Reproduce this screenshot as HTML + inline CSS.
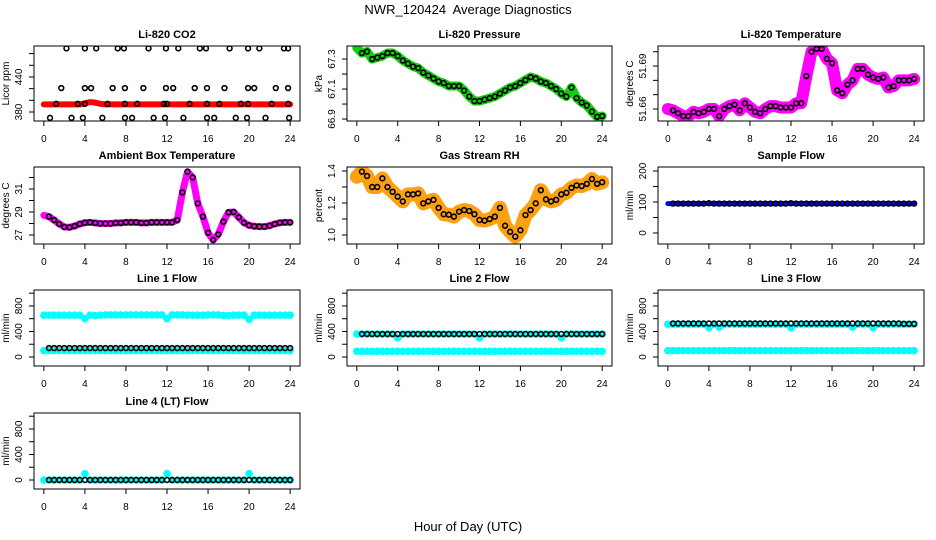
<!DOCTYPE html>
<html><head><meta charset="utf-8"><style>
body{margin:0;background:#fff}
svg{display:block;font-family:"Liberation Sans",Arial,sans-serif}
</style></head><body>
<svg id="chart" width="936" height="540" viewBox="0 0 936 540" xmlns="http://www.w3.org/2000/svg">
<text x="468" y="14" text-anchor="middle" font-size="13" xml:space="preserve">NWR_120424  Average Diagnostics</text>
<text x="468" y="531" text-anchor="middle" font-size="13">Hour of Day (UTC)</text>
</svg>
<script>
const hours = [0,0.5,1,1.5,2,2.5,3,3.5,4,4.5,5,5.5,6,6.5,7,7.5,8,8.5,9,9.5,10,10.5,11,11.5,12,12.5,13,13.5,14,14.5,15,15.5,16,16.5,17,17.5,18,18.5,19,19.5,20,20.5,21,21.5,22,22.5,23,23.5,24];
const xTicks = [0,4,8,12,16,20,24];

const co2Band = [393,393,393,393,393,393,393,393,395,397,396,394,393,393,393,393,393,393,393,393,393,393,393,393,393,393,393,393,393,393,393,393,393,393,393,393,393,393,393,393,393,393,393,393,393,393,393,393,393];
const co2PtHours = [2.2,4.0,5.1,7.2,7.8,10.2,11.9,13.1,15.2,15.8,18.1,19.9,21.0,23.4,23.8, 1.7,4.0,4.6,6.7,7.9,9.7,11.9,12.6,14.7,15.9,17.6,19.9,20.5,22.6,23.8, 1.2,3.3,4.0,6.2,7.9,9.1,11.7,12.0,14.2,15.9,17.1,19.2,19.9,22.2,23.8, 0.6,2.7,3.8,5.7,7.9,8.6,10.7,11.8,13.6,15.9,16.6,18.7,19.8,21.6,23.9];
const co2PtVals = [489,489,489,489,489,489,489,489,489,489,489,489,489,489,489, 421,421,421,421,421,421,421,421,421,421,421,421,421,421,421, 394,394,394,394,394,394,394,394,394,394,394,394,394,394,394, 370,370,370,370,370,370,370,370,370,370,370,370,370,370,370];

const pressure = [67.375,67.34,67.35,67.30,67.31,67.32,67.34,67.34,67.32,67.29,67.27,67.25,67.24,67.21,67.19,67.17,67.15,67.14,67.12,67.12,67.12,67.09,67.05,67.02,67.02,67.03,67.04,67.05,67.07,67.09,67.11,67.12,67.14,67.16,67.18,67.17,67.15,67.14,67.12,67.10,67.07,67.05,67.11,67.04,67.01,66.99,66.95,66.915,66.92];
const liTemp = [51.660,51.659,51.657,51.655,51.655,51.658,51.657,51.658,51.660,51.660,51.655,51.660,51.662,51.663,51.659,51.664,51.661,51.658,51.657,51.660,51.662,51.662,51.661,51.661,51.661,51.664,51.664,51.683,51.700,51.702,51.702,51.695,51.692,51.673,51.671,51.677,51.680,51.688,51.688,51.684,51.682,51.681,51.682,51.675,51.676,51.680,51.680,51.680,51.681];
const ambient = [28.71,28.6,28.3,27.96,27.7,27.67,27.78,27.96,28.07,28.1,28.05,28.0,28.0,28.0,28.05,28.05,28.1,28.1,28.1,28.05,28.05,28.1,28.1,28.1,28.1,28.1,28.3,30.7,32.5,32.0,29.75,28.6,27.2,26.57,27.06,28.16,28.97,29.0,28.54,28.07,27.84,27.76,27.73,27.73,27.81,27.96,28.07,28.1,28.1];
const rh = [1.364,1.396,1.369,1.30,1.30,1.354,1.30,1.27,1.24,1.21,1.254,1.254,1.26,1.198,1.21,1.22,1.17,1.13,1.127,1.115,1.146,1.156,1.15,1.13,1.094,1.09,1.10,1.115,1.17,1.058,1.02,0.99,1.03,1.125,1.156,1.198,1.28,1.223,1.21,1.22,1.254,1.264,1.295,1.31,1.306,1.32,1.35,1.32,1.33];
const sampleFlow = [95,95,95,95,95,95,95,95,96,95,95,95,95,95,95,95,95,95,95,95,95,95,95,95,96,95,95,95,95,95,95,95,95,95,95,95,95,95,95,95,95,95,95,95,95,95,95,95,95];

const l1Hi = [655,655,655,655,655,655,655,655,600,655,650,655,660,660,660,660,660,660,660,660,660,660,660,660,600,660,660,660,655,655,655,655,660,660,660,650,650,655,655,655,590,655,655,655,655,655,655,655,655];
const l1Lo = [100,100,100,100,100,100,100,100,100,100,100,100,100,100,100,100,100,100,100,100,100,100,100,100,100,100,100,100,100,100,100,100,100,100,100,100,100,100,100,100,100,100,100,100,100,100,100,100,100];
const l1Black = [140,140,140,140,140,140,140,140,140,140,140,140,140,140,140,140,140,140,140,140,140,140,140,140,140,140,140,140,140,140,140,140,140,140,140,140,140,140,140,140,140,140,140,140,140,140,140,140,140];
const l2Hi = [360,360,360,360,360,360,360,360,300,360,360,360,360,360,360,360,360,360,360,360,360,360,360,360,300,360,360,360,360,360,360,360,360,360,360,360,360,360,360,360,300,360,360,360,360,360,360,360,360];
const l2Lo = [90,90,90,90,90,90,90,90,90,90,90,90,90,90,90,90,90,90,90,90,90,90,90,90,90,90,90,90,90,90,90,90,90,90,90,90,90,90,90,90,90,90,90,90,90,90,90,90,90];
const l2Black = [360,360,360,360,360,360,360,360,360,360,360,360,360,360,360,360,360,360,360,360,360,360,360,360,360,360,360,360,360,360,360,360,360,360,360,360,360,360,360,360,360,360,360,360,360,360,360,360,360];
const l3Hi = [515,515,515,515,515,515,515,515,460,515,470,515,515,515,515,515,515,515,515,515,515,515,515,515,460,515,515,515,515,515,515,515,515,515,515,515,470,515,515,515,460,515,515,515,515,515,515,515,515];
const l3Lo = [100,100,100,100,100,100,100,100,100,100,100,100,100,100,100,100,100,100,100,100,100,100,100,100,100,100,100,100,100,100,100,100,100,100,100,100,100,100,100,100,100,100,100,100,100,100,100,100,100];
const l3Black = [525,525,525,525,525,525,525,525,525,525,525,525,525,525,525,525,525,525,525,525,525,525,525,525,525,525,525,525,525,525,525,525,525,525,525,525,525,525,525,525,525,525,525,525,525,525,520,520,520];
const l4Cyan = [0,0,0,0,0,0,0,0,100,0,0,0,0,0,0,0,0,0,0,0,0,0,0,0,100,0,0,0,0,0,0,0,0,0,0,0,0,0,0,0,100,0,0,0,0,0,0,0,0];
const l4Black = [0,0,0,0,0,0,0,0,0,0,0,0,0,0,0,0,0,0,0,0,0,0,0,0,0,0,0,0,0,0,0,0,0,0,0,0,0,0,0,0,0,0,0,0,0,0,0,0,0];

const NS = "http://www.w3.org/2000/svg";
const svg = document.getElementById('chart');
const cols = [[34,300],[347,612],[658,924]];
const rows = [[46,121],[167,244],[290,366],[413,489]];
function mk(tag, attrs, parent){const e=document.createElementNS(NS,tag);for(const k in attrs)e.setAttribute(k,attrs[k]);(parent||svg).appendChild(e);return e;}

function panel(o){
  const [x0,x1]=cols[o.c],[y0,y1]=rows[o.r];
  const g=mk('g',{});
  
  
  const xs=h=>x0+(h+0.96)/25.92*(x1-x0);
  const ys=v=>y1-(v-o.lo)/(o.hi-o.lo)*(y1-y0);
  const t=mk('text',{x:(x0+x1)/2,y:y0-8,'text-anchor':'middle','font-size':11,'font-weight':'bold'},g);
  t.textContent=o.title;
  
  
  const clip=mk('clipPath',{id:'c'+o.name},g);
  mk('rect',{x:x0,y:y0,width:x1-x0,height:y1-y0},clip);
  const pg=mk('g',{'clip-path':'url(#c'+o.name+')'},g);
  (o.bands||[]).forEach(b=>{
    if(b.dots){
      b.vals.forEach((v,i)=>{
        const d=mk('circle',{cx:xs(hours[i]),cy:ys(v),r:3.8,fill:b.color},pg);
        
        
      });
    } else {
      const pl=mk('polyline',{points:b.vals.map((v,i)=>xs(hours[i])+','+ys(v)).join(' '),fill:'none',stroke:b.color,'stroke-width':b.w,'stroke-linejoin':'round','stroke-linecap':'round'},pg);
      
      
    }
  });
  (o.pts||[]).forEach(p=>{
    p.vals.forEach((v,i)=>{
      const h=p.hrs?p.hrs[i]:hours[i];
      if(!p.hrs && i===0) return;
      const c=mk('circle',{cx:xs(h),cy:ys(v),r:2.4,fill:'none',stroke:'#000','stroke-width':1.6},pg);
      
      
    });
  });
  mk('rect',{x:x0,y:y0,width:x1-x0,height:y1-y0,fill:'none',stroke:'#000','stroke-width':1},g);
  xTicks.forEach(h=>{
    const x=xs(h);
    mk('line',{x1:x,y1:y1,x2:x,y2:y1+5,stroke:'#000'},g);
    const l=mk('text',{x:x,y:y1+21,'text-anchor':'middle','font-size':10},g);
    l.textContent=h;
    
    
  });
  o.ticks.forEach(v=>{
    const y=ys(v);
    mk('line',{x1:x0,y1:y,x2:x0-5,y2:y,stroke:'#000'},g);
  });
  o.labels.forEach(v=>{
    const y=ys(v);
    const l=mk('text',{x:0,y:0,'text-anchor':'middle','font-size':10,transform:`translate(${x0-12},${y}) rotate(-90)`},g);
    l.textContent=v.toFixed(o.dec);
    
    
  });
  const yt=mk('text',{x:0,y:0,'text-anchor':'middle','font-size':10,transform:`translate(${x0-25},${(y0+y1)/2}) rotate(-90)`},g);
  yt.textContent=o.ylab;
  
  
}

const flowTicks=[0,200,400,600,800,1000], flowLabels=[0,400,800];
panel({name:'co2-panel',c:0,r:0,title:'Li-820 CO2',ylab:'Licor ppm',lo:364.6,hi:493,ticks:[380,400,420,440,460,480],labels:[380,440],dec:0,bands:[{vals:co2Band,color:'#ff0000',w:6}],pts:[{vals:co2PtVals,hrs:co2PtHours}]});
panel({name:'pressure-panel',c:1,r:0,title:'Li-820 Pressure',ylab:'kPa',lo:66.887,hi:67.387,ticks:[66.9,67.0,67.1,67.2,67.3],labels:[66.9,67.1,67.3],dec:1,bands:[{vals:pressure,color:'#10d010',w:9}],pts:[{vals:pressure}]});
panel({name:'li-temp-panel',c:2,r:0,title:'Li-820 Temperature',ylab:'degrees C',lo:51.6516,hi:51.704,ticks:[51.66,51.67,51.68,51.69,51.70],labels:[51.66,51.69],dec:2,bands:[{vals:liTemp,color:'#ff00ff',w:12}],pts:[{vals:liTemp}]});
panel({name:'ambient-panel',c:0,r:1,title:'Ambient Box Temperature',ylab:'degrees C',lo:26.22,hi:32.91,ticks:[27,28,29,30,31,32],labels:[27,29,31],dec:0,bands:[{vals:ambient,color:'#ff00ff',w:7}],pts:[{vals:ambient}]});
panel({name:'rh-panel',c:1,r:1,title:'Gas Stream RH',ylab:'percent',lo:0.944,hi:1.425,ticks:[1.0,1.1,1.2,1.3,1.4],labels:[1.0,1.2,1.4],dec:1,bands:[{vals:rh,color:'#ffa010',w:14}],pts:[{vals:rh}]});
panel({name:'sample-flow-panel',c:2,r:1,title:'Sample Flow',ylab:'ml/min',lo:-35.5,hi:213,ticks:[0,50,100,150,200],labels:[0,100,200],dec:0,bands:[{vals:sampleFlow,color:'#0000ff',w:5}],pts:[{vals:sampleFlow}]});
panel({name:'line1-flow-panel',c:0,r:2,title:'Line 1 Flow',ylab:'ml/min',lo:-141,hi:1050,ticks:flowTicks,labels:flowLabels,dec:0,bands:[{vals:l1Hi,color:'#00ffff',dots:true},{vals:l1Lo,color:'#00ffff',dots:true}],pts:[{vals:l1Black}]});
panel({name:'line2-flow-panel',c:1,r:2,title:'Line 2 Flow',ylab:'ml/min',lo:-141,hi:1050,ticks:flowTicks,labels:flowLabels,dec:0,bands:[{vals:l2Hi,color:'#00ffff',dots:true},{vals:l2Lo,color:'#00ffff',dots:true}],pts:[{vals:l2Black}]});
panel({name:'line3-flow-panel',c:2,r:2,title:'Line 3 Flow',ylab:'ml/min',lo:-141,hi:1050,ticks:flowTicks,labels:flowLabels,dec:0,bands:[{vals:l3Hi,color:'#00ffff',dots:true},{vals:l3Lo,color:'#00ffff',dots:true}],pts:[{vals:l3Black}]});
panel({name:'line4-flow-panel',c:0,r:3,title:'Line 4 (LT) Flow',ylab:'ml/min',lo:-141,hi:1050,ticks:flowTicks,labels:flowLabels,dec:0,bands:[{vals:l4Cyan,color:'#00ffff',dots:true}],pts:[{vals:l4Black}]});
</script>
</body></html>
